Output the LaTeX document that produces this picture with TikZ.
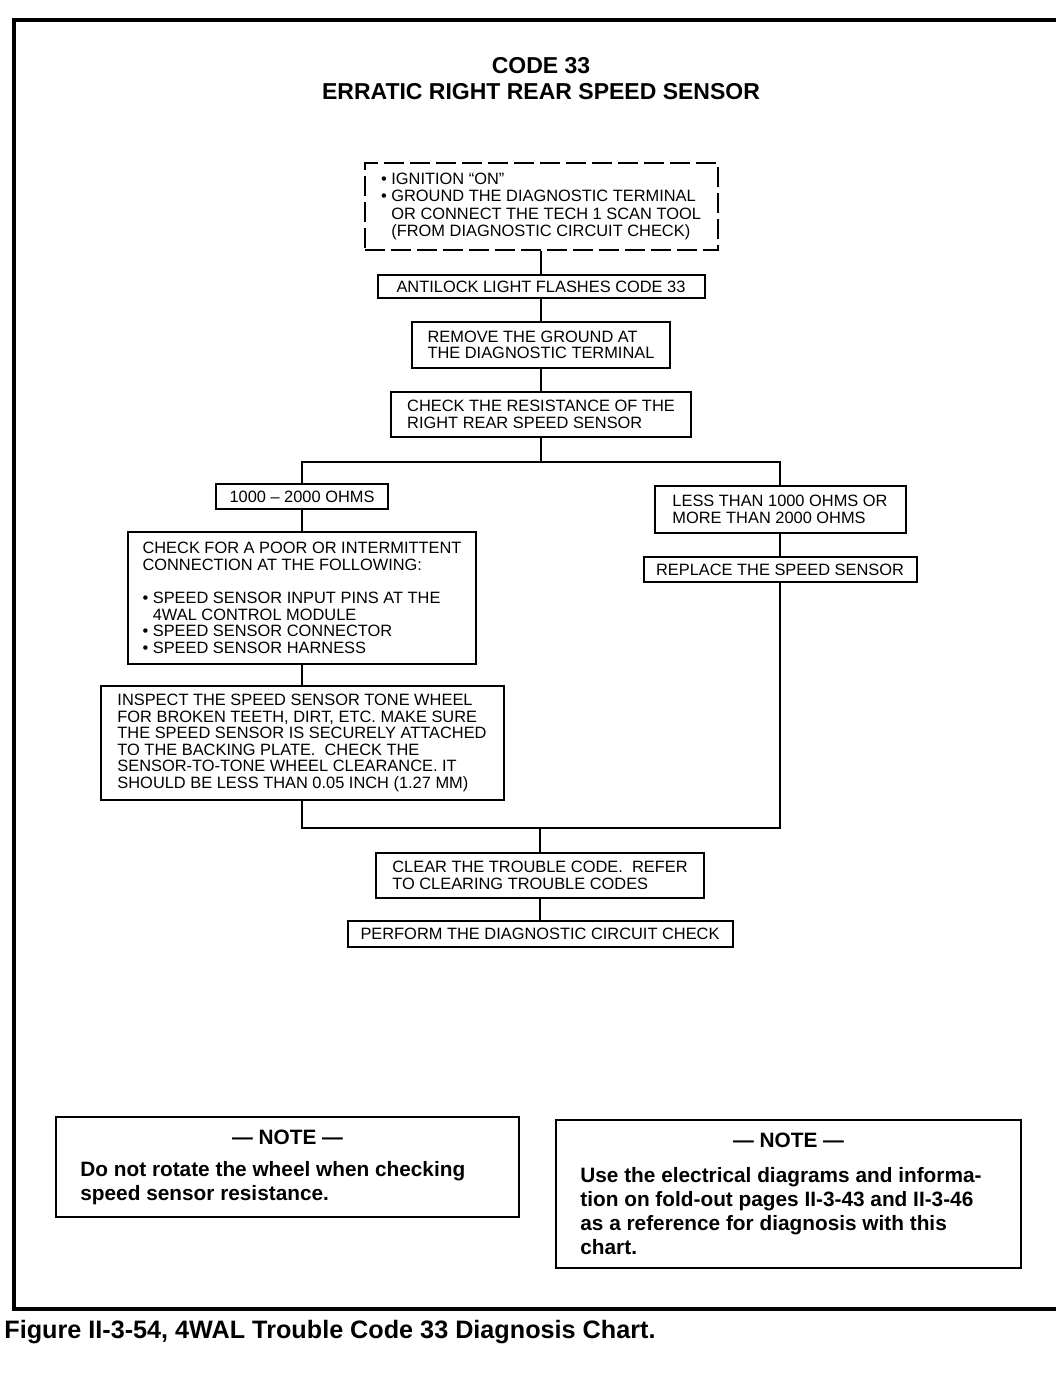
\documentclass[tikz,border=0pt]{standalone}
\usepackage{fontspec}
\setmainfont{Liberation Sans}
\usetikzlibrary{positioning}
\tikzstyle{stepbox}=[
	rectangle,
	draw,
	line width=1pt,
	align=left,
	inner sep=0pt,
	font=\fontsize{8.2}{8.3}\selectfont
]
\tikzstyle{askbox}=[
	stepbox,
	dash pattern=on 10pt off 3pt,
	font=\fontsize{8.2}{8.6}\selectfont
]
\tikzstyle{notebox}=[
	rectangle,
	draw,
	line width=1pt,
	inner sep=0pt
]
\tikzstyle{notetext}=[
	align=left,
	inner sep=0pt,
	font=\fontsize{10.4}{12}\selectfont\bfseries
]
\tikzstyle{link}=[
	line width=1pt
]

\begin{document}
\begin{tikzpicture}[x=0.5pt,y=-0.5pt]
\useasboundingbox (0,0) rectangle (1056,1392);
% frame round the chart
\draw [line width=2pt] (1056,20) -- (14,20) -- (14,1309) -- (1056,1309);
\node [font=\fontsize{11.5}{13}\selectfont\bfseries, align=center] (Title) at (541,79)
	{CODE 33\\ERRATIC RIGHT REAR SPEED SENSOR};

% main column
\node [askbox, minimum width=176.5pt, minimum height=43.5pt] (IgnitionOn) at (541,206.5)
	{\textbullet\ IGNITION ``ON''\\
	 \textbullet\ GROUND THE DIAGNOSTIC TERMINAL\\
	 \phantom{\textbullet\ }OR CONNECT THE TECH 1 SCAN TOOL\\
	 \phantom{\textbullet\ }(FROM DIAGNOSTIC CIRCUIT CHECK)};
\node [stepbox, minimum width=163.5pt, minimum height=11.5pt] (LightFlashes) at (541,286.5)
	{ANTILOCK LIGHT FLASHES CODE 33}
	edge [link] (IgnitionOn);
\node [stepbox, minimum width=129pt, minimum height=23pt] (RemoveGround) at (541,345)
	{REMOVE THE GROUND AT\\THE DIAGNOSTIC TERMINAL}
	edge [link] (LightFlashes);
\node [stepbox, minimum width=150pt, minimum height=22.5pt] (CheckResistance) at (541,414.5)
	{CHECK THE RESISTANCE OF THE\\RIGHT REAR SPEED SENSOR}
	edge [link] (RemoveGround);
\coordinate (Split) at (541,462);

% left branch
\node [stepbox, minimum width=86pt, minimum height=12.5pt] (InRange) at (302,496.5)
	{1000 -- 2000 OHMS};
\node [stepbox, minimum width=174pt, minimum height=66pt] (CheckConnection) at (302,598)
	{CHECK FOR A POOR OR INTERMITTENT\\
	 CONNECTION AT THE FOLLOWING:\\[8.3pt]
	 \textbullet\ SPEED SENSOR INPUT PINS AT THE\\
	 \phantom{\textbullet\ }4WAL CONTROL MODULE\\
	 \textbullet\ SPEED SENSOR CONNECTOR\\
	 \textbullet\ SPEED SENSOR HARNESS}
	edge [link] (InRange);
\node [stepbox, minimum width=201.5pt, minimum height=57pt] (InspectWheel) at (302,743)
	{INSPECT THE SPEED SENSOR TONE WHEEL\\
	 FOR BROKEN TEETH, DIRT, ETC. MAKE SURE\\
	 THE SPEED SENSOR IS SECURELY ATTACHED\\
	 TO THE BACKING PLATE.\ \ CHECK THE\\
	 SENSOR-TO-TONE WHEEL CLEARANCE. IT\\
	 SHOULD BE LESS THAN 0.05 INCH (1.27 MM)}
	edge [link] (CheckConnection);

% right branch
\node [stepbox, minimum width=125.5pt, minimum height=23.5pt] (OutOfRange) at (780,509.5)
	{LESS THAN 1000 OHMS OR\\MORE THAN 2000 OHMS};
\node [stepbox, minimum width=136.5pt, minimum height=12.5pt] (ReplaceSensor) at (780,569.5)
	{REPLACE THE SPEED SENSOR}
	edge [link] (OutOfRange);

\draw [link] (CheckResistance) -- (Split);
\draw [link] (InRange) |- (Split) -| (OutOfRange);

% both branches end here
\coordinate (Merge) at (540,828);
\draw [link] (InspectWheel) |- (Merge) -| (ReplaceSensor);
\node [stepbox, minimum width=164pt, minimum height=22.5pt] (ClearCode) at (540,875.5)
	{CLEAR THE TROUBLE CODE.\ \ REFER\\TO CLEARING TROUBLE CODES}
	edge [link] (Merge);
\node [stepbox, minimum width=192.5pt, minimum height=13pt] (PerformCheck) at (540,934)
	{PERFORM THE DIAGNOSTIC CIRCUIT CHECK}
	edge [link] (ClearCode);

% notes
\node [notebox, minimum width=231.5pt, minimum height=50pt] (NoteWheel) at (287.5,1167) {};
\node [notetext] at (287.5,1137) {--- NOTE ---};
\node [notetext, anchor=north west] at (80,1161)
	{Do not rotate the wheel when checking\\speed sensor resistance.};
\node [notebox, minimum width=232.5pt, minimum height=74pt] (NoteDiagrams) at (788.5,1194) {};
\node [notetext] at (788.5,1140) {--- NOTE ---};
\node [notetext, anchor=north west] at (580,1167)
	{Use the electrical diagrams and informa-\\
	 tion on fold-out pages II-3-43 and II-3-46\\
	 as a reference for diagnosis with this\\
	 chart.};

\node [anchor=west, inner sep=0pt, font=\fontsize{12.6}{14}\selectfont\bfseries] (Caption) at (4,1332)
	{Figure II-3-54, 4WAL Trouble Code 33 Diagnosis Chart.};
\end{tikzpicture}
\end{document}
